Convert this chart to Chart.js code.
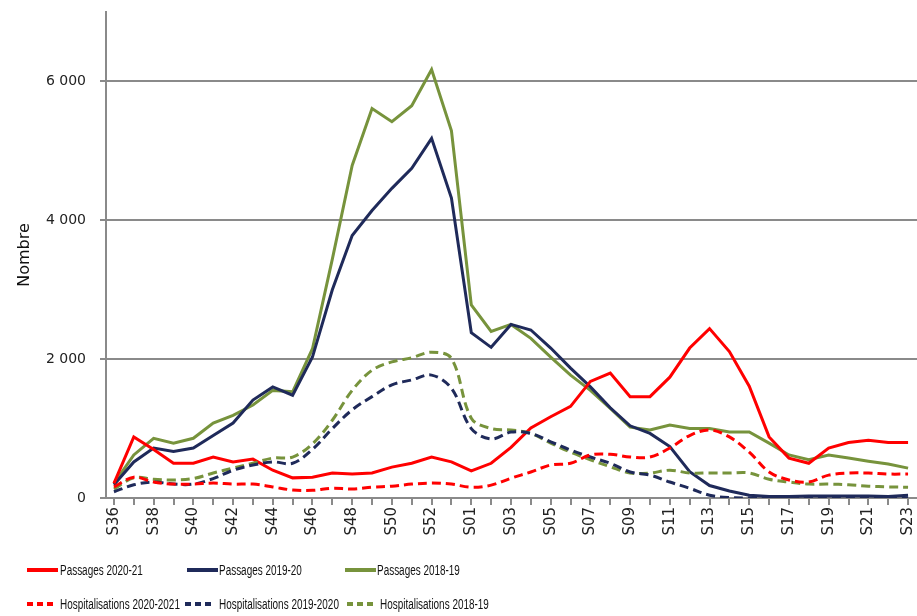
<!DOCTYPE html>
<html><head><meta charset="utf-8">
<script src="https://cdn.jsdelivr.net/npm/chart.js@4.4.1/dist/chart.umd.min.js"></script>
<style>
html,body{margin:0;padding:0;background:#fff;}
#wrap{position:relative;width:917px;height:616px;background:#fff;overflow:hidden;}
#c{position:absolute;left:0;top:0;}
#legend{position:absolute;left:0;top:0;width:917px;height:616px;pointer-events:none;font-family:"Liberation Sans",Arial,sans-serif;font-size:14px;color:#111;}
.item{position:absolute;height:20px;}
.item svg{position:absolute;left:0;top:0;}
.item span{position:absolute;top:1px;white-space:nowrap;transform:scaleX(0.71);transform-origin:0 50%;line-height:18px;}
</style></head>
<body><div id="wrap"><canvas id="c" width="917" height="616"></canvas><div id="legend"></div></div>
<script>
// Week categories (S36 2020 .. S23 2021) and tick labels
const weeks = ['S36','S37','S38','S39','S40','S41','S42','S43','S44','S45','S46','S47','S48','S49','S50','S51','S52','S53',
  'S01','S02','S03','S04','S05','S06','S07','S08','S09','S10','S11','S12','S13','S14','S15','S16','S17','S18','S19','S20','S21','S22','S23'];
const yTickValues = [0, 2000, 4000, 6000];

// Series values
const passages2021 = [210,880,700,500,500,590,520,560,400,290,300,360,345,360,445,500,590,520,390,500,730,1010,1170,1320,1680,1800,1460,1460,1740,2160,2440,2110,1610,880,575,500,720,800,830,800,800];
const passages1920 = [190,520,720,670,720,900,1080,1410,1600,1480,2030,3000,3780,4140,4460,4750,5180,4320,2380,2170,2500,2420,2160,1870,1600,1300,1040,930,740,380,180,100,40,20,20,30,30,30,30,20,40];
const passages1819 = [210,620,860,790,860,1080,1190,1340,1550,1530,2150,3440,4790,5610,5420,5650,6170,5290,2780,2400,2500,2300,2030,1770,1550,1290,1020,980,1050,1000,1000,950,950,790,620,550,620,575,530,490,430];
const hosp2021 = [160,300,230,200,200,215,200,200,160,115,110,140,130,155,170,200,215,200,155,185,285,375,475,500,620,630,590,590,720,900,980,880,660,375,260,230,330,360,360,345,345];
const hosp1920 = [90,190,230,200,200,280,400,475,520,500,700,1000,1270,1460,1630,1700,1770,1580,1000,850,950,930,810,690,590,500,375,330,230,140,40,5,0,0,0,0,0,0,0,0,0];
const hosp1819 = [130,290,270,260,280,360,430,500,575,590,780,1120,1550,1840,1960,2020,2100,2010,1150,1000,980,930,790,660,550,450,360,360,400,360,360,360,360,270,230,200,200,190,170,160,155];

const seriesLabels = ['Passages 2020-21','Passages 2019-20','Passages 2018-19','Hospitalisations 2020-2021','Hospitalisations 2019-2020','Hospitalisations 2018-19'];

const RED = '#ff0000', NAVY = '#1f2a5a', GREEN = '#77933c';
const toPts = arr => arr.map((v, i) => ({x: i, y: v}));
function solid(label, arr, color){ return {label, data: toPts(arr), borderColor: color, backgroundColor: color, borderWidth: 3, pointRadius: 0, tension: 0, fill: false}; }
function dashed(label, arr, color){ return {label, data: toPts(arr), borderColor: color, backgroundColor: color, borderWidth: 3, borderDash: [9,5], pointRadius: 0, tension: 0.35, fill: false}; }

const datasets = [
  dashed(seriesLabels[3], hosp2021, RED),
  dashed(seriesLabels[4], hosp1920, NAVY),
  dashed(seriesLabels[5], hosp1819, GREEN),
  solid(seriesLabels[0], passages2021, RED),
  solid(seriesLabels[1], passages1920, NAVY),
  solid(seriesLabels[2], passages1819, GREEN)
];

const fmt = v => String(v).replace(/\B(?=(\d{3})+(?!\d))/g, ' ');

const chart = new Chart(document.getElementById('c'), {
  type: 'line',
  data: { datasets },
  options: {
    responsive: false, animation: false, devicePixelRatio: 1,
    layout: { padding: { top: 12, right: 0, bottom: 0, left: 0 } },
    plugins: { legend: { display: false }, tooltip: { enabled: false } },
    scales: {
      x: {
        type: 'linear', min: -0.4, max: 40.45,
        afterBuildTicks: s => { s.ticks = weeks.map((w, i) => ({value: i})); },
        afterFit: s => { s.height = 118; s.paddingLeft = 0; s.paddingRight = 0; },
        ticks: {
          autoSkip: false, minRotation: 90, maxRotation: 90, padding: 2,
          color: '#222', font: { family: 'DejaVu Sans', size: 15 },
          callback: (v) => (Number.isInteger(v) && v % 2 === 0) ? weeks[v] : ''
        },
        grid: { drawOnChartArea: false, drawTicks: true, tickLength: 7, color: '#8a8a8a', lineWidth: 2 },
        border: { display: true, color: '#8a8a8a', width: 2 }
      },
      y: {
        min: 0, max: 7000,
        afterBuildTicks: s => { s.ticks = yTickValues.map(v => ({value: v})); },
        afterFit: s => { s.width = 106; s.paddingTop = 0; s.paddingBottom = 0; },
        ticks: { color: '#222', padding: 14, font: { family: 'DejaVu Sans', size: 14 }, callback: v => fmt(v) },
        grid: { color: '#8a8a8a', lineWidth: 2, tickLength: 6 },
        border: { display: true, color: '#8a8a8a', width: 2 },
        title: { display: true, text: 'Nombre', color: '#111', font: { family: 'DejaVu Sans', size: 16 }, padding: { top: 15, bottom: 0 } }
      }
    }
  }
});

// HTML legend built from the chart's datasets
const legendLayout = {
  'Passages 2020-21': [27, 560, 31, 33],
  'Passages 2019-20': [187, 560, 31, 32],
  'Passages 2018-19': [345, 560, 31, 32],
  'Hospitalisations 2020-2021': [27, 594, 27, 33],
  'Hospitalisations 2019-2020': [185, 594, 26, 34],
  'Hospitalisations 2018-19': [347, 594, 28, 33]
};
const legendEl = document.getElementById('legend');
seriesLabels.forEach(name => {
  const ds = chart.data.datasets.find(d => d.label === name);
  const [lx, ly, sw, tx] = legendLayout[name];
  const item = document.createElement('div');
  item.className = 'item';
  item.style.left = lx + 'px'; item.style.top = ly + 'px'; item.style.width = '200px';
  const dash = ds.borderDash ? 'stroke-dasharray="6 4"' : '';
  item.innerHTML = '<svg width="' + sw + '" height="20"><line x1="0" y1="10" x2="' + sw + '" y2="10" stroke="' + ds.borderColor + '" stroke-width="4" ' + dash + '/></svg>' +
    '<span style="left:' + tx + 'px">' + ds.label + '</span>';
  legendEl.appendChild(item);
});
</script>
</body></html>
